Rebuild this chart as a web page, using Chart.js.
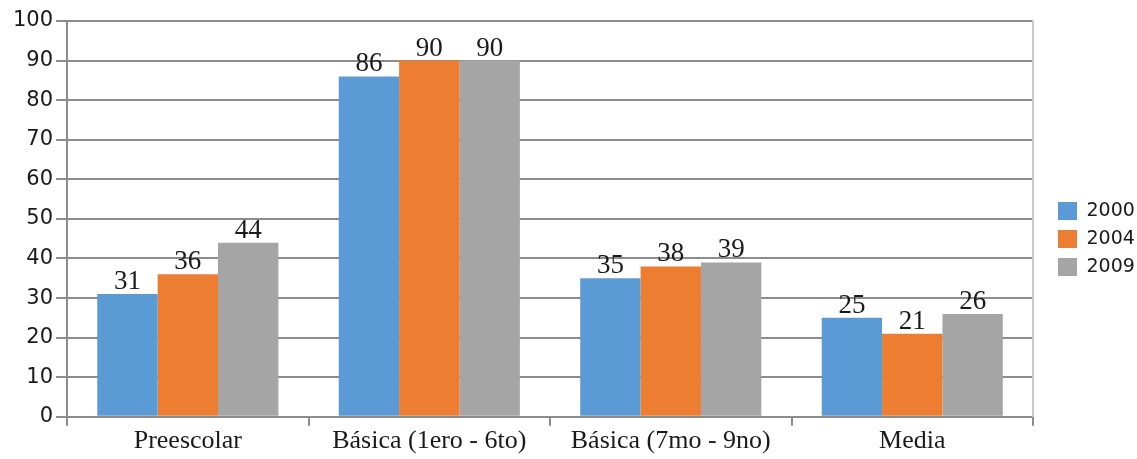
<!DOCTYPE html>
<html>
<head>
<meta charset="utf-8">
<script src="https://cdn.jsdelivr.net/npm/chart.js@4/dist/chart.umd.min.js"></script>
<style>
    html, body { margin: 0; padding: 0; background: #ffffff; }
    #wrap { width: 1137px; height: 459px; }
</style>
</head>
<body>
<div id="wrap"><canvas id="chart"></canvas></div>
<script>
// Datos
const categories = ['Preescolar', 'Básica (1ero - 6to)', 'Básica (7mo - 9no)', 'Media'];
const years = ['2000', '2004', '2009'];
const values2000 = [31, 86, 35, 25];
const values2004 = [36, 90, 38, 21];
const values2009 = [44, 90, 39, 26];
const colors = ['#5B9BD5', '#ED7D31', '#A5A5A5'];

const serif = '"Liberation Serif", "Times New Roman", serif';
const sans = '"DejaVu Sans", Verdana, sans-serif';
const gridColor = '#8c8c8c';

// Etiquetas de valor encima de cada barra
const valueLabels = {
    id: 'valueLabels',
    afterDatasetsDraw(chart) {
        const ctx = chart.ctx;
        ctx.save();
        ctx.font = '27px ' + serif;
        ctx.fillStyle = '#1a1a1a';
        ctx.textAlign = 'center';
        ctx.textBaseline = 'alphabetic';
        chart.data.datasets.forEach((ds, i) => {
            chart.getDatasetMeta(i).data.forEach((bar, j) => {
                ctx.fillText(String(ds.data[j]), bar.x, bar.y - 5);
            });
        });
        ctx.restore();
    }
};

const seriesData = [values2000, values2004, values2009];
const datasets = years.map((y, i) => ({
    label: y,
    data: seriesData[i],
    backgroundColor: colors[i],
    borderWidth: 0,
    barPercentage: 1,
    categoryPercentage: 0.75
}));

new Chart(document.getElementById('chart'), {
    type: 'bar',
    data: { labels: categories, datasets },
    plugins: [valueLabels],
    options: {
        responsive: true,
        maintainAspectRatio: false,
        animation: false,
        layout: { padding: { left: 10, top: 21, right: 0, bottom: 2 } },
        plugins: {
            legend: {
                position: 'right',
                maxWidth: 88,
                labels: {
                    boxWidth: 19,
                    boxHeight: 18,
                    padding: 9,
                    color: '#1a1a1a',
                    font: { family: sans, size: 19 }
                }
            },
            tooltip: { enabled: false }
        },
        scales: {
            x: {
                grid: {
                    offset: true,
                    drawOnChartArea: false,
                    tickLength: 9,
                    color: gridColor,
                    lineWidth: 2
                },
                border: { color: gridColor, width: 2 },
                ticks: {
                    color: '#1a1a1a',
                    padding: 0,
                    font: { family: serif, size: 26 }
                }
            },
            y: {
                min: 0,
                max: 100,
                ticks: {
                    stepSize: 10,
                    color: '#1a1a1a',
                    padding: 3,
                    font: { family: sans, size: 21 }
                },
                grid: {
                    color: gridColor,
                    lineWidth: 2,
                    tickLength: 11
                },
                border: { color: gridColor, width: 2 }
            },
            yRight: {
                position: 'right',
                min: 0,
                max: 100,
                ticks: { display: false },
                grid: { display: false },
                border: { color: '#c8c8c8', width: 2 },
                afterFit(axis) { axis.width = 16; }
            }
        }
    }
});
</script>
</body>
</html>
